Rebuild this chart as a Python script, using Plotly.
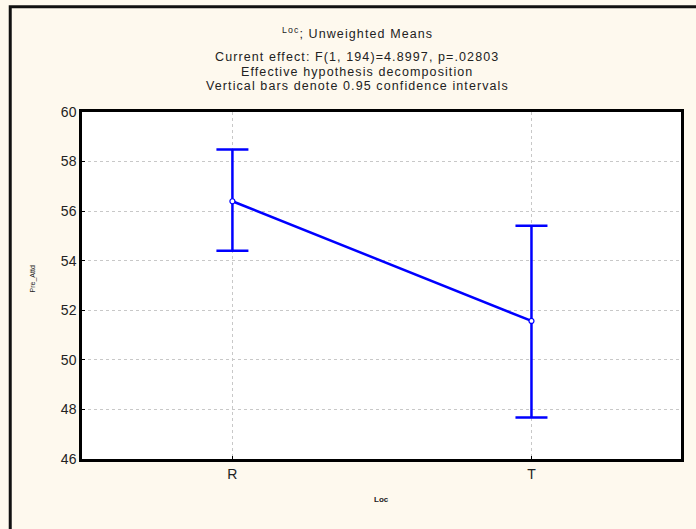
import plotly.graph_objects as go

categories = ["R", "T"]
means = [56.40, 51.57]
lower = [54.40, 47.67]
upper = [58.49, 55.41]
y_ticks = [46, 48, 50, 52, 54, 56, 58, 60]

err_plus = [u - m for u, m in zip(upper, means)]
err_minus = [m - l for m, l in zip(means, lower)]
xpos = list(range(len(categories)))

fig = go.Figure()
fig.add_trace(go.Scatter(
    x=xpos, y=means, mode="lines+markers",
    line=dict(color="#0000FF", width=2.5),
    marker=dict(symbol="circle", size=5, color="#FFFFFF", line=dict(width=1.2, color="#0000FF")),
    error_y=dict(type="data", symmetric=False, array=err_plus, arrayminus=err_minus,
                 color="#0000FF", thickness=2.5, width=16),
    showlegend=False,
))

font = "Liberation Sans, Arial, sans-serif"
fig.update_layout(
    width=696, height=529,
    margin=dict(l=82, r=13, t=111.5, b=70),
    paper_bgcolor="#FEF9EE", plot_bgcolor="#FFFFFF",
    font=dict(family=font, size=14, color="#222222"),
    xaxis=dict(range=[-0.503, 1.5], tickvals=xpos, ticktext=categories,
               showgrid=True, gridcolor="#C8C8C8", griddash="dot", gridwidth=1,
               showline=True, linecolor="#000000", linewidth=2.5, mirror=True,
               ticks="inside", ticklen=3, tickcolor="#000000", zeroline=False,
               tickfont=dict(size=14, color="#222222")),
    yaxis=dict(range=[46, 60], tickvals=y_ticks,
               showgrid=True, gridcolor="#C8C8C8", griddash="dot", gridwidth=1,
               showline=True, linecolor="#000000", linewidth=2.5, mirror=True,
               ticks="inside", ticklen=3, tickcolor="#000000", zeroline=False,
               tickfont=dict(size=14, color="#222222")),
)

title_lines = [
    ("<sup style='font-size:8px'>Loc</sup>; Unweighted Means", 32),
    ("Current effect: F(1, 194)=4.8997, p=.02803", 56),
    ("Effective hypothesis decomposition", 71),
    ("Vertical bars denote 0.95 confidence intervals", 85),
]
for text, ypx in title_lines:
    fig.add_annotation(text="<span style='letter-spacing:1.1px'>" + text + "</span>",
                       xref="paper", yref="paper",
                       x=(358 - 82) / 601, y=(459 - ypx) / 347.5,
                       xanchor="center", yanchor="middle", showarrow=False,
                       font=dict(size=12.5, color="#222222", family=font))

fig.add_annotation(text="<b>Loc</b>", xref="paper", yref="paper",
                   x=(383 - 82) / 601, y=(459 - 500) / 347.5,
                   xanchor="center", yanchor="middle", showarrow=False,
                   font=dict(size=8, color="#222222", family=font))
fig.add_annotation(text="Pre_Attd", xref="paper", yref="paper",
                   x=(33 - 82) / 601, y=(459 - 279) / 347.5, textangle=-90,
                   xanchor="center", yanchor="middle", showarrow=False,
                   font=dict(size=7, color="#222222", family=font))

# outer frame
fig.add_shape(type="rect", xref="paper", yref="paper",
              x0=(10 - 82) / 601, x1=1.2, y0=-0.3, y1=(459 - 6) / 347.5,
              line=dict(color="#111111", width=3), fillcolor="rgba(0,0,0,0)", layer="below")

fig.write_html("out.html")
